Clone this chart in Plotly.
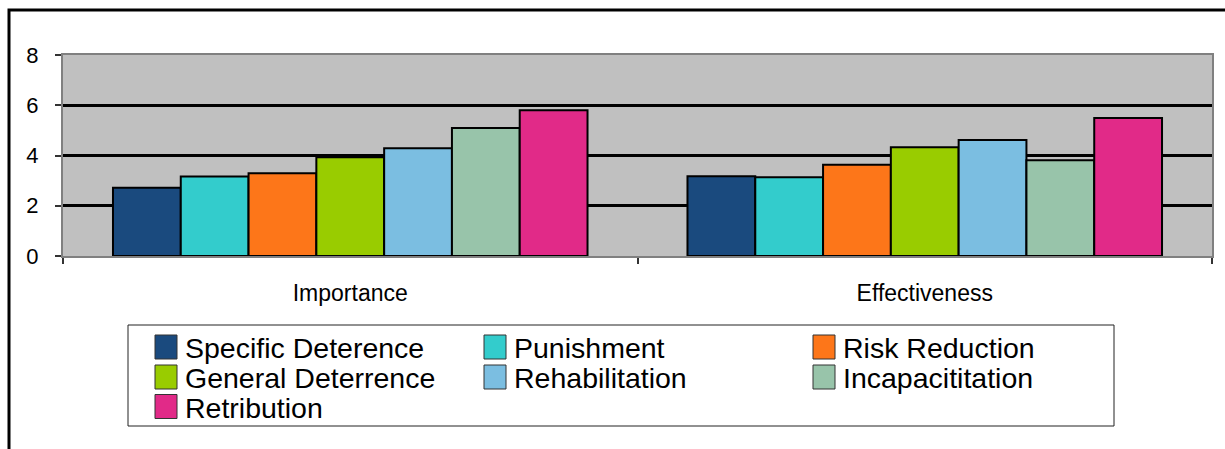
import plotly.graph_objects as go

# Survey ratings by sentencing purpose
categories = ["Importance", "Effectiveness"]
series_names = [
    "Specific Deterence",
    "Punishment",
    "Risk Reduction",
    "General Deterrence",
    "Rehabilitation",
    "Incapacititation",
    "Retribution",
]
specific_deterence = [2.72, 3.17]
punishment = [3.16, 3.13]
risk_reduction = [3.29, 3.63]
general_deterrence = [3.93, 4.33]
rehabilitation = [4.29, 4.62]
incapacititation = [5.09, 3.81]
retribution = [5.80, 5.49]
y_ticks = [0, 2, 4, 6, 8]

series_values = [
    specific_deterence,
    punishment,
    risk_reduction,
    general_deterrence,
    rehabilitation,
    incapacititation,
    retribution,
]
colors = ["#1a4a7e", "#33cccc", "#fd7619", "#99cc00", "#7bbee1", "#98c4aa", "#e12a88"]

W, H = 1225, 449
L, R, T, B = 63, 13, 55, 193
PW, PH = W - L - R, H - T - B
FONT = "Arial, Liberation Sans, sans-serif"


def px(x):
    return (x - L) / PW


def py(y):
    return (H - B - y) / PH


fig = go.Figure()
for name, vals, col in zip(series_names, series_values, colors):
    fig.add_trace(go.Bar(
        x=categories, y=vals, name=name, showlegend=False,
        marker=dict(color=col, line=dict(color="black", width=2)),
    ))

shapes = []
annotations = []

# outer chart frame (runs off the right and bottom edges)
shapes.append(dict(type="rect", xref="paper", yref="paper",
                   x0=px(9), x1=px(1260), y0=py(480), y1=py(10),
                   line=dict(color="black", width=3), fillcolor="rgba(0,0,0,0)", layer="above"))

# legend box with three columns
shapes.append(dict(type="rect", xref="paper", yref="paper",
                   x0=px(128), x1=px(1114), y0=py(426), y1=py(325),
                   line=dict(color="#222222", width=1), fillcolor="white", layer="above"))
col_x = [155, 484, 813]
row_y = [335, 365, 394.5]
for i, (name, col) in enumerate(zip(series_names, colors)):
    r, c = divmod(i, 3)
    x0, y0 = col_x[c], row_y[r]
    shapes.append(dict(type="rect", xref="paper", yref="paper",
                       x0=px(x0), x1=px(x0 + 22), y0=py(y0 + 24), y1=py(y0),
                       line=dict(color="#333333", width=1), fillcolor=col, layer="above"))
    annotations.append(dict(xref="paper", yref="paper", x=px(x0 + 28), y=py(y0 + 13),
                            xanchor="left", yanchor="middle", showarrow=False,
                            text=name, font=dict(family=FONT, size=28.5, color="black")))

fig.update_layout(
    width=W, height=H,
    margin=dict(l=L, r=R, t=T, b=B, pad=0),
    paper_bgcolor="white",
    plot_bgcolor="#c0c0c0",
    barmode="group",
    bargap=0.174,
    bargroupgap=0,
    shapes=shapes,
    annotations=annotations,
    font=dict(family=FONT, color="black"),
    xaxis=dict(
        type="category", tickson="boundaries", ticks="outside", ticklen=6,
        tickcolor="#333333", tickwidth=1.5,
        showline=True, linecolor="#808080", linewidth=2, mirror=True,
        showgrid=False, tickfont=dict(size=23, family=FONT, color="black"),
        ticklabelstandoff=15,
    ),
    yaxis=dict(
        range=[0, 8], tickvals=y_ticks, ticks="outside", ticklen=6,
        tickcolor="#333333", tickwidth=1.5,
        showline=True, linecolor="#808080", linewidth=2, mirror=True,
        showgrid=True, gridcolor="black", gridwidth=2.5, zeroline=False,
        tickfont=dict(size=22, family=FONT, color="black"),
        ticklabelstandoff=12,
    ),
)

fig.write_html("out.html")
